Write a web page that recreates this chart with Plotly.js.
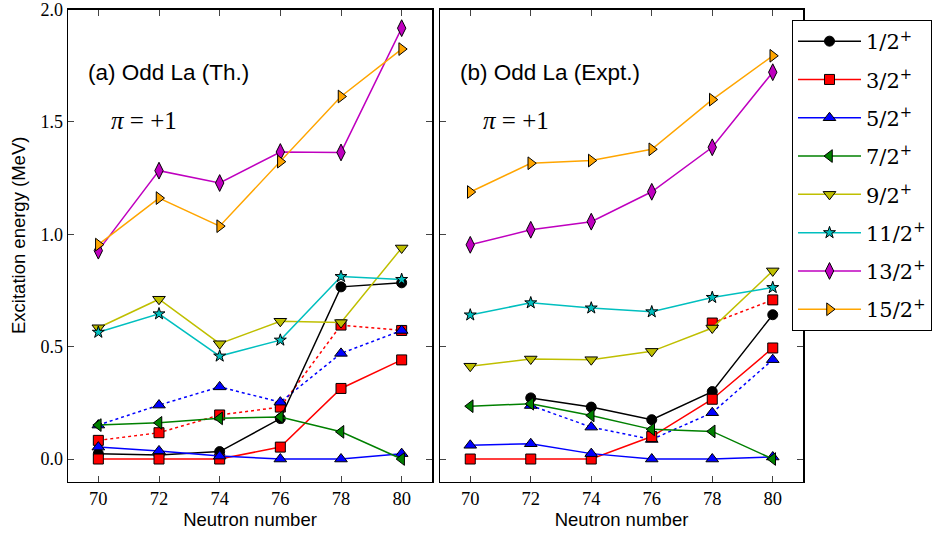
<!DOCTYPE html>
<html>
<head>
<meta charset="utf-8">
<script src="https://cdn.plot.ly/plotly-3.0.1.min.js"></script>
<style>html,body{margin:0;padding:0;background:#fff;}#chart{width:932px;height:534px;}</style>
</head>
<body>
<div id="chart"></div>
<script>
// Neutron numbers
const neutrons = [70, 72, 74, 76, 78, 80];
const spinLabels = ['1/2<sup>+</sup>','3/2<sup>+</sup>','5/2<sup>+</sup>','7/2<sup>+</sup>','9/2<sup>+</sup>','11/2<sup>+</sup>','13/2<sup>+</sup>','15/2<sup>+</sup>'];

// (a) Theory
const th_1_2  = [0.024, 0.018, 0.033, 0.180, 0.766, 0.784];
const th_3_2  = [0.000, 0.000, 0.000, 0.053, 0.314, 0.441];
const th_3_2b = [0.083, 0.117, 0.196, 0.231, 0.596, 0.572];
const th_5_2  = [0.053, 0.036, 0.013, 0.000, 0.000, 0.024];
const th_5_2b = [0.151, 0.240, 0.321, 0.253, 0.470, 0.572];
const th_7_2  = [0.151, 0.161, 0.181, 0.187, 0.121, 0.000];
const th_9_2  = [0.584, 0.711, 0.513, 0.613, 0.607, 0.939];
const th_11_2 = [0.564, 0.646, 0.458, 0.529, 0.812, 0.799];
const th_13_2 = [0.927, 1.283, 1.228, 1.366, 1.364, 1.917];
const th_15_2 = [0.954, 1.161, 1.036, 1.323, 1.613, 1.824];

// (b) Experiment
const ex_1_2  = [null, 0.272, 0.231, 0.175, 0.300, 0.642];
const ex_3_2  = [0.000, 0.000, 0.000, 0.100, 0.266, 0.494];
const ex_3_2b = [null, null, null, null, 0.605, 0.708];
const ex_5_2  = [0.061, 0.068, 0.024, 0.000, 0.000, 0.009];
const ex_5_2b = [null, 0.238, 0.142, 0.087, 0.206, 0.442];
const ex_7_2  = [0.235, 0.246, 0.194, 0.132, 0.123, 0.000];
const ex_9_2  = [0.413, 0.445, 0.442, 0.479, 0.583, 0.837];
const ex_11_2 = [0.641, 0.695, 0.672, 0.655, 0.719, 0.763];
const ex_13_2 = [0.953, 1.020, 1.056, 1.189, 1.387, 1.721];
const ex_15_2 = [1.188, 1.316, 1.328, 1.378, 1.599, 1.794];

const styles = [
  {color:'#000000', symbol:'circle', size:10},
  {color:'#ff0000', symbol:'square', size:10},
  {color:'#0000ff', symbol:'triangle-up', size:11},
  {color:'#008000', symbol:'triangle-left', size:11},
  {color:'#bfbf00', symbol:'triangle-down', size:11},
  {color:'#00bfbf', symbol:'star', size:9},
  {color:'#bf00bf', symbol:'diamond-tall', size:12},
  {color:'#ffa500', symbol:'triangle-right', size:11}
];

function tr(y, idx, xa, ya, dash, legend){
  const s = styles[idx];
  return {
    x: neutrons, y: y, xaxis: xa, yaxis: ya, type:'scatter', mode:'lines+markers',
    name: spinLabels[idx], legendgroup: 'g'+idx, showlegend: legend,
    line: {color: s.color, width: 1.5, dash: dash},
    marker: {symbol: s.symbol, size: s.size, color: s.color, line:{color:'#000', width:1}},
    connectgaps: false, hoverinfo:'x+y'
  };
}

const thSeries = [th_1_2, th_3_2, th_5_2, th_7_2, th_9_2, th_11_2, th_13_2, th_15_2];
const exSeries = [ex_1_2, ex_3_2, ex_5_2, ex_7_2, ex_9_2, ex_11_2, ex_13_2, ex_15_2];

const data = [];
data.push(tr(th_3_2b, 1, 'x', 'y', 'dot', false));
data.push(tr(th_5_2b, 2, 'x', 'y', 'dot', false));
data.push(tr(ex_3_2b, 1, 'x2', 'y2', 'dot', false));
data.push(tr(ex_5_2b, 2, 'x2', 'y2', 'dot', false));
for (let i = 0; i < 8; i++) data.push(tr(thSeries[i], i, 'x', 'y', 'solid', true));
for (let i = 0; i < 8; i++) data.push(tr(exSeries[i], i, 'x2', 'y2', 'solid', false));

const W = 932, H = 534;
const serif = 'Liberation Serif, DejaVu Serif, serif';
const serifWide = 'DejaVu Serif, Liberation Serif, serif';
const sans = 'Liberation Sans, Arial, sans-serif';

const xbase = {
  range:[69,81], tickvals:[70,72,74,76,78,80], ticks:'inside', ticklen:6, tickwidth:1,
  showline:true, linecolor:'#000', linewidth:1.5, mirror:'ticks', showgrid:false, zeroline:false,
  tickfont:{family:serif, size:18.5, color:'#000'}, ticklabeloverflow:'allow',
  title:{text:'Neutron number', font:{family:sans, size:18.5, color:'#000'}, standoff:5},
  automargin:false
};
const ybase = {
  range:[-0.1,2.0], tickvals:[0,0.5,1.0,1.5,2.0], tickformat:'.1f', ticks:'inside', ticklen:6, tickwidth:1,
  showline:true, linecolor:'#000', linewidth:1.5, mirror:'ticks', showgrid:false, zeroline:false,
  tickfont:{family:serif, size:18, color:'#000'}, ticklabeloverflow:'allow', automargin:false
};

const yTop = 1 - 9.5/H, yBot = 1 - 481.5/H;

const layout = {
  width: W, height: H,
  margin:{l:0, r:0, t:0, b:0},
  paper_bgcolor:'#fff', plot_bgcolor:'#fff',
  xaxis: Object.assign({}, xbase, {domain:[68/W, 432/W], anchor:'y'}),
  yaxis: Object.assign({}, ybase, {domain:[yBot, yTop], anchor:'x'}),
  xaxis2: Object.assign({}, xbase, {domain:[440/W, 803/W], anchor:'y2'}),
  yaxis2: Object.assign({}, ybase, {domain:[yBot, yTop], anchor:'x2', showticklabels:false}),
  showlegend: true,
  legend:{x:792/W, y:1-20/H, xanchor:'left', yanchor:'top', bgcolor:'#fff', bordercolor:'#000', borderwidth:1,
    font:{family:serifWide, size:21, color:'#000'}, traceorder:'grouped', tracegroupgap:8, itemwidth:63},
  annotations:[
    {xref:'paper', yref:'paper', x:19/W, y:1-236/H, xanchor:'center', yanchor:'middle', textangle:-90, showarrow:false,
     text:'Excitation energy (MeV)', font:{family:sans, size:18.5, color:'#000'}},
    {xref:'x', yref:'paper', x:69.6, y:1-72/H, xanchor:'left', yanchor:'middle', showarrow:false,
     text:'(a) Odd La (Th.)', font:{family:sans, size:22.5, color:'#000'}},
    {xref:'x', yref:'paper', x:70.35, y:1-120/H, xanchor:'left', yanchor:'middle', showarrow:false,
     text:'<i>π</i> = +1', font:{family:serif, size:25, color:'#000'}},
    {xref:'x2', yref:'paper', x:69.6, y:1-72/H, xanchor:'left', yanchor:'middle', showarrow:false,
     text:'(b) Odd La (Expt.)', font:{family:sans, size:22.5, color:'#000'}},
    {xref:'x2', yref:'paper', x:70.35, y:1-120/H, xanchor:'left', yanchor:'middle', showarrow:false,
     text:'<i>π</i> = +1', font:{family:serif, size:25, color:'#000'}}
  ]
};

Plotly.newPlot('chart', data, layout, {staticPlot:true, displayModeBar:false});
</script>
</body>
</html>
